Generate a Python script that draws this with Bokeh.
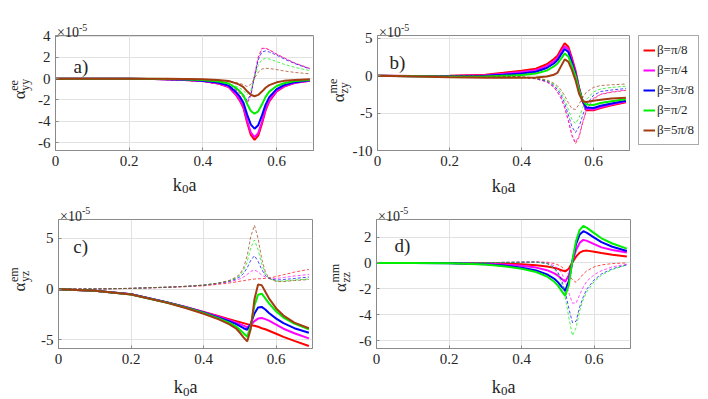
import math
from bokeh.plotting import figure
from bokeh.layouts import column, row
from bokeh.models import Range1d, FixedTicker, Legend, LegendItem
from bokeh.core.properties import value
from bokeh.embed import file_html
from bokeh.resources import INLINE

# ---------------- data (values in units of 1e-5) ----------------
K = [0, 0.1, 0.2, 0.3, 0.35, 0.4, 0.44, 0.47, 0.49, 0.5, 0.51, 0.52, 0.53,
     0.54, 0.55, 0.56, 0.57, 0.58, 0.6, 0.62, 0.65, 0.69]

BETA_LABELS = ["β=π/8", "β=π/4", "β=3π/8", "β=π/2", "β=5π/8"]
COLORS = ["#ff0000", "#ff00ff", "#0000ff", "#00ee00", "#a33c12"]

X_TICKS = [0, 0.2, 0.4, 0.6]
A_YTICKS = [-6, -4, -2, 0, 2, 4]
B_YTICKS = [-10, -5, 0, 5]
C_YTICKS = [-5, 0, 5]
D_YTICKS = [-6, -4, -2, 0, 2]

# a) alpha_ee_yy  (solid = real, dashed = imag)
A_RE = [
    [0, 0, 0, -0.06, -0.12, -0.23, -0.43, -0.8, -1.55, -2.07, -2.76, -4.14, -5.29, -5.75, -5.35, -4.26, -2.99, -2.13, -1.21, -0.75, -0.4, -0.2],
    [0, 0, 0, -0.06, -0.11, -0.22, -0.41, -0.77, -1.49, -1.98, -2.64, -3.96, -5.06, -5.5, -5.12, -4.07, -2.86, -2.04, -1.16, -0.72, -0.39, -0.19],
    [0, 0, 0, -0.05, -0.09, -0.19, -0.35, -0.66, -1.27, -1.69, -2.26, -3.38, -4.32, -4.7, -4.37, -3.48, -2.44, -1.74, -0.99, -0.61, -0.33, -0.16],
    [0, 0, 0, -0.03, -0.07, -0.13, -0.25, -0.46, -0.89, -1.19, -1.58, -2.38, -3.04, -3.3, -3.07, -2.44, -1.72, -1.22, -0.69, -0.43, -0.23, -0.12],
    [0, 0, 0, -0.02, -0.03, -0.07, -0.12, -0.23, -0.45, -0.59, -0.79, -1.19, -1.52, -1.65, -1.53, -1.22, -0.86, -0.61, -0.35, -0.21, -0.12, -0.06],
]
A_IM = [
    [0, 0, -0.02, -0.1, -0.17, -0.28, -0.5, -0.75, -1.1, -1.35, -1.75, -2.3, -1.6, 0.3, 2.0, 2.85, 2.85, 2.7, 2.3, 1.95, 1.45, 0.95],
    [0, 0, -0.02, -0.1, -0.17, -0.28, -0.5, -0.75, -1.1, -1.35, -1.7, -2.25, -1.55, 0.3, 1.95, 2.8, 2.85, 2.7, 2.3, 1.95, 1.45, 0.95],
    [0, 0, -0.02, -0.09, -0.15, -0.25, -0.45, -0.67, -0.98, -1.2, -1.55, -2.05, -1.45, 0.2, 1.75, 2.5, 2.6, 2.5, 2.2, 1.85, 1.4, 0.9],
    [0, 0, -0.01, -0.06, -0.1, -0.18, -0.32, -0.48, -0.72, -0.88, -1.12, -1.5, -1.1, 0.1, 1.25, 1.8, 1.9, 1.85, 1.6, 1.35, 1.05, 0.75],
    [0, 0, -0.01, -0.03, -0.05, -0.09, -0.16, -0.25, -0.37, -0.45, -0.57, -0.75, -0.55, 0.05, 0.6, 0.9, 0.97, 0.95, 0.85, 0.72, 0.58, 0.45],
]

# b) alpha_me_zy
B_RE = [
    [0, -0.02, 0, 0.15, 0.4, 0.68, 0.95, 1.55, 2.25, 2.7, 3.55, 4.35, 3.9, 2.4, 0.7, -1.6, -3.4, -4.6, -4.6, -4.3, -3.95, -3.55],
    [0, -0.03, -0.03, 0.08, 0.28, 0.5, 0.75, 1.3, 1.95, 2.4, 3.2, 3.95, 3.55, 2.1, 0.45, -1.7, -3.4, -4.45, -4.5, -4.2, -3.85, -3.45],
    [0, -0.05, -0.07, 0.0, 0.15, 0.32, 0.55, 1.05, 1.65, 2.1, 2.85, 3.6, 3.2, 1.8, 0.25, -1.8, -3.4, -4.25, -4.3, -4.0, -3.7, -3.35],
    [0, -0.06, -0.12, -0.1, 0.0, 0.1, 0.3, 0.7, 1.25, 1.65, 2.3, 3.0, 2.6, 1.4, 0.0, -1.9, -3.3, -3.85, -3.9, -3.65, -3.4, -3.15],
    [0, -0.08, -0.18, -0.25, -0.25, -0.25, -0.22, -0.1, 0.15, 0.4, 1.3, 2.2, 1.9, 0.8, -0.6, -2.4, -3.4, -3.5, -3.35, -3.2, -3.05, -2.95],
]
B_IM = [
    [0, 0, 0, -0.05, -0.1, -0.2, -0.4, -0.8, -1.5, -2.2, -3.0, -4.3, -6.0, -8.0, -9.1, -8.2, -6.3, -4.7, -3.1, -2.5, -2.2, -1.95],
    [0, 0, 0, -0.05, -0.1, -0.2, -0.4, -0.8, -1.5, -2.15, -2.95, -4.2, -5.9, -7.9, -8.9, -8.0, -6.2, -4.6, -3.0, -2.45, -2.15, -1.9],
    [0, 0, 0, -0.04, -0.08, -0.17, -0.35, -0.7, -1.3, -1.85, -2.6, -3.7, -5.2, -6.8, -7.6, -6.8, -5.3, -3.9, -2.6, -2.1, -1.9, -1.7],
    [0, 0, 0, -0.04, -0.07, -0.15, -0.3, -0.62, -1.15, -1.6, -2.25, -3.2, -4.5, -5.8, -6.4, -5.6, -4.3, -3.2, -2.15, -1.75, -1.55, -1.4],
    [0, 0, 0, -0.03, -0.06, -0.12, -0.25, -0.55, -1.0, -1.35, -1.9, -2.65, -3.6, -4.4, -4.5, -3.8, -2.9, -2.2, -1.55, -1.3, -1.2, -1.1],
]

# c) alpha_em_yz
C_RE = [
    [0, -0.15, -0.5, -1.3, -1.75, -2.25, -2.65, -2.95, -3.15, -3.25, -3.35, -3.45, -3.55, -3.6, -3.7, -3.85, -3.95, -4.1, -4.4, -4.7, -5.1, -5.6],
    [0, -0.15, -0.5, -1.3, -1.75, -2.27, -2.7, -3.05, -3.3, -3.45, -3.6, -3.75, -3.55, -3.15, -2.9, -2.85, -2.95, -3.1, -3.5, -3.9, -4.35, -4.85],
    [0, -0.15, -0.5, -1.32, -1.78, -2.3, -2.78, -3.15, -3.45, -3.65, -3.85, -4.0, -3.4, -2.4, -1.8, -1.75, -2.0, -2.35, -2.9, -3.35, -3.85, -4.3],
    [0, -0.15, -0.52, -1.33, -1.8, -2.35, -2.85, -3.3, -3.7, -4.0, -4.35, -4.7, -3.6, -1.6, -0.55, -0.45, -0.9, -1.4, -2.2, -2.8, -3.4, -3.95],
    [0, -0.15, -0.53, -1.35, -1.85, -2.42, -2.95, -3.45, -3.9, -4.3, -4.75, -5.15, -3.9, -1.0, 0.45, 0.4, -0.25, -0.9, -1.9, -2.6, -3.3, -3.85],
]
C_IM = [
    [0, 0.02, 0.07, 0.17, 0.24, 0.33, 0.48, 0.6, 0.72, 0.78, 0.84, 0.9, 0.95, 1.0, 1.02, 1.04, 1.07, 1.1, 1.25, 1.42, 1.68, 1.95],
    [0, 0.02, 0.08, 0.19, 0.27, 0.38, 0.55, 0.72, 0.9, 1.02, 1.2, 1.45, 1.75, 1.9, 1.7, 1.4, 1.2, 1.1, 1.05, 1.15, 1.3, 1.45],
    [0, 0.02, 0.08, 0.2, 0.28, 0.4, 0.58, 0.78, 1.02, 1.22, 1.55, 2.1, 2.85, 3.3, 2.75, 1.95, 1.35, 1.05, 0.9, 0.95, 1.05, 1.2],
    [0, 0.02, 0.08, 0.2, 0.28, 0.4, 0.6, 0.82, 1.12, 1.38, 1.85, 2.7, 4.1, 4.85, 3.9, 2.5, 1.5, 1.05, 0.8, 0.8, 0.9, 1.0],
    [0, 0.02, 0.08, 0.2, 0.28, 0.4, 0.6, 0.85, 1.2, 1.5, 2.1, 3.3, 5.2, 6.3, 5.0, 3.0, 1.7, 1.1, 0.75, 0.75, 0.85, 0.95],
]

# d) alpha_mm_zz  (four curves visible)
D_RE = [
    [0, 0, -0.01, -0.03, -0.05, -0.1, -0.17, -0.27, -0.38, -0.46, -0.56, -0.65, -0.45, 0.05, 0.48, 0.8, 0.93, 0.95, 0.87, 0.76, 0.63, 0.5],
    [0, 0, -0.01, -0.06, -0.12, -0.22, -0.36, -0.56, -0.8, -0.98, -1.22, -1.45, -0.95, 0.1, 1.0, 1.55, 1.78, 1.7, 1.45, 1.2, 1.0, 0.8],
    [0, 0, -0.02, -0.1, -0.2, -0.37, -0.58, -0.88, -1.22, -1.48, -1.82, -2.15, -1.4, 0.15, 1.45, 2.2, 2.45, 2.32, 1.95, 1.6, 1.25, 0.92],
    [0, 0, -0.02, -0.12, -0.25, -0.45, -0.7, -1.05, -1.45, -1.75, -2.15, -2.55, -1.7, 0.2, 1.7, 2.55, 2.85, 2.7, 2.3, 1.9, 1.5, 1.1],
]
D_IM = [
    [0, 0, 0, 0.02, 0.04, 0.06, 0.08, 0.06, -0.05, -0.15, -0.3, -0.55, -0.9, -1.3, -1.5, -1.2, -0.85, -0.6, -0.3, -0.15, -0.05, 0.0],
    [0, 0, 0, 0.02, 0.04, 0.06, 0.07, 0.0, -0.22, -0.42, -0.78, -1.38, -2.3, -3.1, -3.1, -2.45, -1.85, -1.4, -0.9, -0.6, -0.3, -0.1],
    [0, 0, 0, 0.02, 0.04, 0.06, 0.06, -0.04, -0.38, -0.72, -1.3, -2.2, -3.5, -4.6, -4.5, -3.4, -2.6, -2.0, -1.3, -0.85, -0.45, -0.15],
    [0, 0, 0, 0.02, 0.04, 0.06, 0.06, -0.05, -0.45, -0.85, -1.55, -2.6, -4.2, -5.6, -5.0, -3.7, -2.8, -2.2, -1.45, -0.95, -0.5, -0.15],
]

FONT = "Liberation Serif"
TXT = "#262626"
AXC = "#8a8a8a"
XMAX = 0.7


def make_fig(w, h, bl, br, bt, bb, yr, yticks):
    p = figure(width=w, height=h, output_backend="svg", toolbar_location=None,
               x_range=Range1d(0, XMAX), y_range=Range1d(*yr),
               min_border_left=bl, min_border_right=br,
               min_border_top=bt, min_border_bottom=bb)
    p.xaxis.ticker = FixedTicker(ticks=X_TICKS)
    p.xaxis.major_label_overrides = {0: "0", 0.2: "0.2", 0.4: "0.4", 0.6: "0.6"}
    p.yaxis.ticker = FixedTicker(ticks=yticks)
    p.yaxis.major_label_overrides = {t: str(t) for t in yticks}
    p.axis.axis_line_color = AXC
    p.axis.major_tick_line_color = AXC
    p.axis.major_tick_in = 3
    p.axis.major_tick_out = 0
    p.axis.minor_tick_line_color = None
    p.axis.major_label_text_font = FONT
    p.axis.major_label_text_font_size = "15px"
    p.axis.major_label_text_color = TXT
    p.axis.major_label_standoff = 5
    p.outline_line_color = AXC
    p.grid.grid_line_color = "#e2e2e2"
    p.background_fill_color = "white"
    p.border_fill_color = "white"
    return p


class Geo:
    """Page position of a figure's frame, used to place the free texts."""
    def __init__(self, fx0, fx1, fy0, fy1, ymin, ymax):
        self.fx0, self.fx1, self.fy0, self.fy1 = fx0, fx1, fy0, fy1
        self.ymin, self.ymax = ymin, ymax

    def data(self, px, py):
        x = (px - self.fx0) / (self.fx1 - self.fx0) * XMAX
        y = self.ymax - (py - self.fy0) / (self.fy1 - self.fy0) * (self.ymax - self.ymin)
        return x, y


def add_text(p, g, px, py, text, size, angle=0.0, align="left", baseline="alphabetic"):
    x, y = g.data(px, py)
    p.text(x=[x], y=[y], text=[text], text_font=value(FONT),
           text_font_size=value(f"{size}px"), text_color=TXT, angle=angle,
           text_align=align, text_baseline=baseline, level="overlay")


def decorate(p, g, letter, lx, ly, sup, sub, cx, ystart):
    fx0, fx1, fy0, fy1 = g.fx0, g.fx1, g.fy0, g.fy1
    # exponent
    add_text(p, g, fx0 + 1.5, fy0 - 3.5, "×10", 14)
    add_text(p, g, fx0 + 23.5, fy0 - 9, "-5", 10)
    # panel letter
    add_text(p, g, lx, ly, letter, 19)
    # x label k0a
    xc = (fx0 + fx1) / 2
    x0 = xc - 11.8
    yb = fy1 + 38.5
    add_text(p, g, x0, yb, "k", 18)
    add_text(p, g, x0 + 9.2, yb + 4.5, "0", 13)
    add_text(p, g, x0 + 15.8, yb, "a", 18)
    # y label alpha^sup_sub (rotated)
    a = math.pi / 2
    add_text(p, g, cx + 2, ystart, "α", 17, angle=a)
    add_text(p, g, cx - 4, ystart - 9.5, sup, 12, angle=a)
    add_text(p, g, cx + 7, ystart - 9.5, sub, 12, angle=a)


def draw(p, re, im):
    solids = []
    for i in range(len(re)):
        r = p.line(K, re[i], line_color=COLORS[i], line_width=2)
        p.line(K, im[i], line_color=COLORS[i], line_width=1, line_dash="3 2",
               line_alpha=0.7)
        solids.append(r)
    return solids


# top-left  (page: x 0-318, y 0-199)
YA = (-6.75, 4.05)
p1 = make_fig(318, 199, 55, 5, 23, 49, YA, A_YTICKS)
draw(p1, A_RE, A_IM)
decorate(p1, Geo(55, 313, 23, 150, *YA), "a)", 73, 57, "ee", "yy", 17, 93.5)

# top-middle  (page: x 318-634, y 0-199)
YB = (-10, 5.4)
p2 = make_fig(316, 199, 59, 5, 24, 49, YB, B_YTICKS)
draw(p2, B_RE, B_IM)
decorate(p2, Geo(377, 629, 24, 150, *YB), "b)", 389, 54, "me", "zy", 336, 97)

# legend holder  (page: x 634-708, y 0-199), no axes; its key lines carry
# panel b's solid series but lie outside its visible x range
pl = figure(width=74, height=199, output_backend="svg", toolbar_location=None,
            x_axis_type=None, y_axis_type=None,
            min_border_left=4, min_border_top=35, min_border_right=0,
            min_border_bottom=0,
            x_range=Range1d(5, 6), y_range=Range1d(0, 1))
pl.outline_line_color = None
pl.background_fill_color = "white"
pl.border_fill_color = "white"
keys = [pl.line(K, B_RE[i], line_color=COLORS[i], line_width=2) for i in range(5)]
legend = Legend(items=[LegendItem(label=BETA_LABELS[i], renderers=[keys[i]])
                       for i in range(5)],
                location="top_left", label_text_font=FONT,
                label_text_font_size="13px", label_text_color=TXT,
                glyph_width=12, glyph_height=20, label_height=20,
                label_standoff=2, spacing=0, padding=4, margin=0,
                border_line_color="#555555", border_line_width=1,
                background_fill_color="white", background_fill_alpha=1.0)
pl.add_layout(legend)

# bottom-left  (page: x 0-318, y 199-399)
YC = (-5.85, 6.87)
p3 = make_fig(318, 200, 58, 6, 20, 51, YC, C_YTICKS)
draw(p3, C_RE, C_IM)
decorate(p3, Geo(58, 312, 219, 348, *YC), "c)", 72.7, 246, "em", "yz", 17, 291)

# bottom-right  (page: x 318-708, y 199-399)
YD = (-6.6, 3.35)
p4 = make_fig(390, 200, 58, 78, 19, 51, YD, D_YTICKS)
draw(p4, D_RE, D_IM)
decorate(p4, Geo(376, 630, 218, 348, *YD), "d)", 394, 244, "mm", "zz", 338, 291)

layout = column(row(p1, p2, pl), row(p3, p4))
open("out.html", "w").write(file_html(layout, INLINE))
